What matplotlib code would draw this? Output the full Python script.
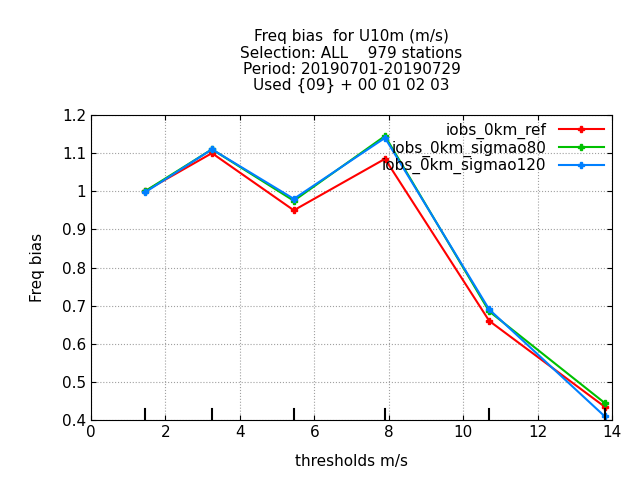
import matplotlib
matplotlib.use("Agg")
import matplotlib.pyplot as plt

thresholds = [1.45, 3.25, 5.45, 7.9, 10.7, 13.8]
ref = [1.0, 1.10, 0.95, 1.085, 0.66, 0.435]
sigmao80 = [1.0, 1.11, 0.975, 1.145, 0.685, 0.445]
sigmao120 = [0.997, 1.11, 0.98, 1.14, 0.69, 0.41]
labels = ["iobs_0km_ref", "iobs_0km_sigmao80", "iobs_0km_sigmao120"]
colors = ["#ff0000", "#00c000", "#0080ff"]

fig = plt.figure(figsize=(6.4, 4.8), dpi=100)
ax = fig.add_axes([91/640, 1-420/480, 521/640, 305/480])

for y, lab, c in zip([ref, sigmao80, sigmao120], labels, colors):
    ax.plot(thresholds, y, color=c, lw=1.5, marker="P", ms=5, label=lab)

# threshold markers along the bottom
for t in thresholds:
    ax.plot([t, t], [0.4, 0.43], color="black", lw=1.5)

ax.set_xlim(0, 14)
ax.set_ylim(0.4, 1.2)
ax.set_xticks(range(0, 15, 2))
ax.set_yticks([0.4, 0.5, 0.6, 0.7, 0.8, 0.9, 1.0, 1.1, 1.2])
ax.set_yticklabels(["0.4", "0.5", "0.6", "0.7", "0.8", "0.9", "1", "1.1", "1.2"])
ax.tick_params(direction="in", top=True, right=True, labelsize=11)
ax.grid(True, color="#a0a0a0", linestyle=":", lw=0.8)
ax.set_xlabel("thresholds m/s", fontsize=11, labelpad=10)
ax.set_ylabel("Freq bias", fontsize=11, labelpad=12)
ax.set_title("Freq bias  for U10m (m/s)\nSelection: ALL    979 stations\nPeriod: 20190701-20190729\nUsed {09} + 00 01 02 03",
             fontsize=11, linespacing=1.1, pad=18)

leg = ax.legend(loc="upper right", frameon=False, fontsize=11, markerfirst=False,
                handlelength=3, borderaxespad=0.1, labelspacing=0.1)
for t in leg.get_texts():
    t.set_ha("right")

fig.savefig("out.png", dpi=100)
